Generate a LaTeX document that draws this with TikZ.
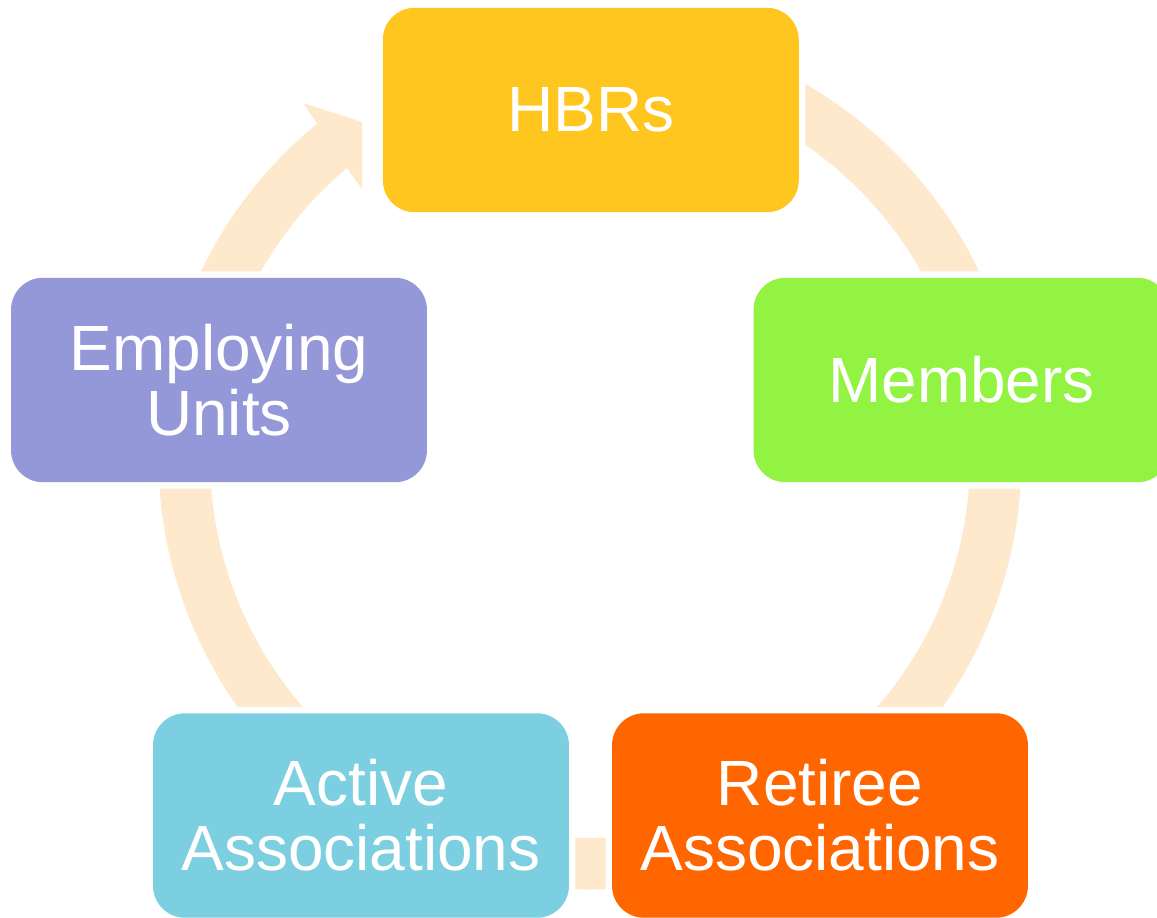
\documentclass[tikz,border=0pt]{standalone}
\usepackage{fontspec}
\setmainfont{Liberation Sans}
\usetikzlibrary{calc}
\definecolor{cHBR}{RGB}{255,198,32}
\definecolor{cMem}{RGB}{146,243,66}
\definecolor{cRet}{RGB}{255,102,0}
\definecolor{cAct}{RGB}{124,207,224}
\definecolor{cEmp}{RGB}{148,152,217}
\definecolor{cArc}{RGB}{254,233,205}
\tikzset{
  stagebox/.style={rectangle, rounded corners=0.64cm, minimum width=8.32cm, minimum height=4.09cm,
    inner sep=0pt, text=white, align=center, font=\fontsize{36.4}{37}\selectfont,
    preaction={draw=white, line width=0.26cm}},
  ring/.style={draw=cArc, line width=1.03cm},
  arrowfill/.style={fill=cArc, draw=none}
}
\begin{document}
\begin{tikzpicture}[x=0.02cm,y=-0.02cm]
\useasboundingbox (0,0) rectangle (1157,917);
\clip (0,0) rectangle (1157,917);
\fill[white] (0,0) rectangle (1157,917);
\coordinate (c) at (590,458);
% connectors (ring of arcs)
\draw[ring] ($(c)+(275:405.75)$) arc[start angle=275, end angle=560, radius=405.75];
% last connector with arrowhead: Employing Units -> HBRs
\fill[arrowfill] ($(c)+(200:431.5)$) arc[start angle=200, end angle=230.8, radius=431.5]
  -- (303,103) -- (362,122) -- (362,189) -- (347,168)
  arc[start angle=230.0, end angle=200, radius=380] -- cycle;
% stages
\node[stagebox, fill=cHBR] (hbr) at (590.8,110) {HBRs};
\node[stagebox, fill=cMem] (mem) at (961.5,380) {Members};
\node[stagebox, fill=cRet] (ret) at (820,815.5) {Retiree\\Associations};
\node[stagebox, fill=cAct] (act) at (361,815.5) {Active\\Associations};
\node[stagebox, fill=cEmp] (emp) at (219,380) {Employing\\Units};
\end{tikzpicture}
\end{document}
